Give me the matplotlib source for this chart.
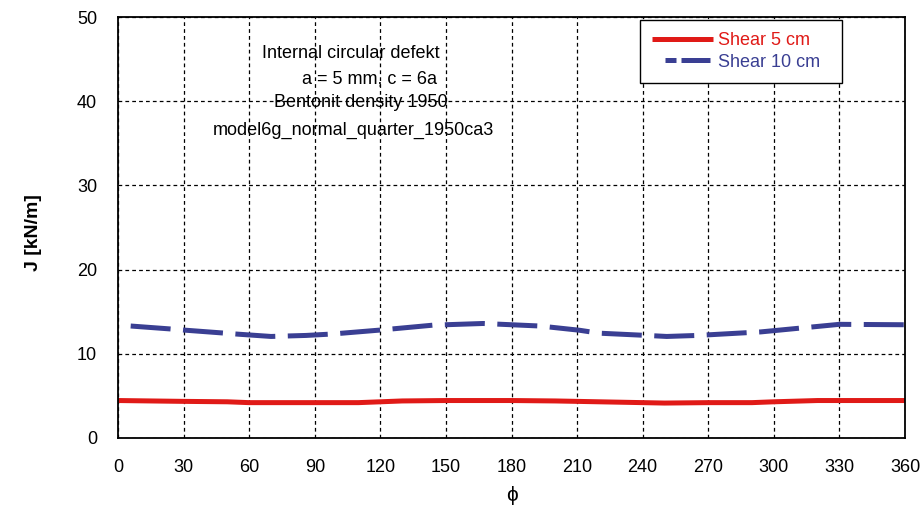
import matplotlib
matplotlib.use("Agg")
import matplotlib.pyplot as plt
from matplotlib.lines import Line2D

# Shear 10 cm (blau, gestrichelt)
phi_10 = [5.8, 24, 31, 49, 55, 70, 86, 98, 119, 144, 167, 193, 211, 220, 242, 251, 265, 294, 318, 330, 360]
j_10 = [13.3, 12.95, 12.8, 12.45, 12.33, 12.06, 12.18, 12.35, 12.8, 13.4, 13.6, 13.3, 12.8, 12.45, 12.18, 12.06, 12.18, 12.6, 13.2, 13.5, 13.45]

# Shear 5 cm (rot)
phi_5 = [0, 30, 50, 60, 90, 110, 130, 150, 180, 200, 220, 240, 250, 270, 290, 300, 320, 360]
j_5 = [4.45, 4.35, 4.3, 4.2, 4.2, 4.2, 4.4, 4.45, 4.45, 4.4, 4.3, 4.2, 4.15, 4.2, 4.2, 4.3, 4.45, 4.45]

info_lines = ["Internal circular defekt", "a = 5 mm, c = 6a", "Bentonit density 1950",
              "model6g_normal_quarter_1950ca3"]
series_names = ['Shear 5 cm', 'Shear 10 cm']

RED = '#e01a17'
BLUE = '#3a3f93'

plt.rcParams['font.family'] = ['Liberation Sans', 'DejaVu Sans']

fig = plt.figure(figsize=(9.21, 5.09), dpi=100)
ax = fig.add_axes([118/921, 1 - 438/509, 787/921, 421/509])

ax.plot(phi_5, j_5, color=RED, lw=3.6, solid_capstyle='butt')
ax.plot(phi_10, j_10, color=BLUE, lw=3.6, dashes=(8, 2.5), dash_capstyle='butt')

ax.set_xlim(0, 360)
ax.set_ylim(0, 50)
ax.set_xticks(range(0, 361, 30))
ax.set_yticks(range(0, 51, 10))
ax.grid(True, color='black', linestyle=(0, (3, 2.5)), lw=0.9)
ax.tick_params(axis='y', length=0, labelsize=13, pad=15)
ax.tick_params(axis='x', length=0, labelsize=13, pad=15)
for s in ax.spines.values():
    s.set_linewidth(1.3)

ax.set_ylabel('J [kN/m]', fontsize=14, fontweight='bold')
ax.yaxis.set_label_coords(-0.0966, 0.488)
ax.set_xlabel('ϕ', fontsize=15)
ax.xaxis.set_label_coords(0.5, -0.115)

# Beschriftung im Diagramm
txt_x = [0.296, 0.319, 0.309, 0.299]
txt_y = [0.914, 0.852, 0.798, 0.731]
for t, xx, yy in zip(info_lines, txt_x, txt_y):
    ax.text(xx, yy, t, transform=ax.transAxes, ha='center', va='center', fontsize=13)

# Legende mit eigenen Handles (blauer Strich wie im Original versetzt)
handles = [Line2D([], [], color=RED, lw=3.6, solid_capstyle='butt'),
           Line2D([], [], color=BLUE, lw=3.6, dash_capstyle='butt',
                  linestyle=(9.0, (2.2, 1.0, 5.8, 2.6)))]
leg = ax.legend(handles, [n + '  ' for n in series_names], loc='upper right',
                bbox_to_anchor=(0.920, 0.993),
                fontsize=13, frameon=True, fancybox=False, edgecolor='black', framealpha=1,
                handlelength=3.4, handletextpad=0.25, borderpad=0.66, labelspacing=0.27,
                borderaxespad=0)
leg.get_frame().set_linewidth(1.0)
for txt, c in zip(leg.get_texts(), [RED, BLUE]):
    txt.set_color(c)

fig.savefig('out.png', dpi=100)
